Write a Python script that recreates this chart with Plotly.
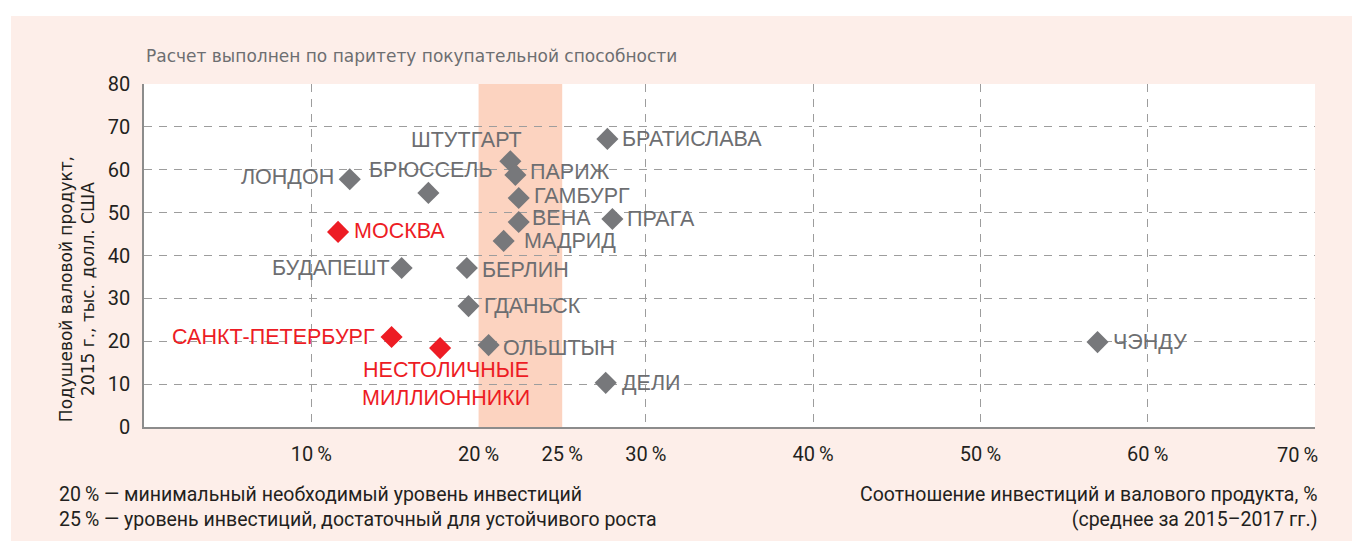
import plotly.graph_objects as go

# data
cities = ["ЛОНДОН", "БРЮССЕЛЬ", "БУДАПЕШТ", "ШТУТГАРТ", "ПАРИЖ", "ГАМБУРГ", "ВЕНА",
          "МАДРИД", "БЕРЛИН", "ГДАНЬСК", "ОЛЬШТЫН", "БРАТИСЛАВА", "ПРАГА", "ДЕЛИ", "ЧЭНДУ"]
invest = [12.3, 17.0, 15.4, 21.9, 22.2, 22.4, 22.4, 21.5, 19.3, 19.4, 20.6, 27.7, 28.0, 27.6, 57.0]
gdp = [57.8, 54.6, 37.1, 62.0, 58.8, 53.4, 47.8, 43.4, 37.1, 28.2, 19.1, 67.2, 48.5, 10.3, 19.8]

ru_cities = ["МОСКВА", "САНКТ-ПЕТЕРБУРГ", "НЕСТОЛИЧНЫЕ<br>МИЛЛИОННИКИ"]
ru_invest = [11.6, 14.8, 17.7]
ru_gdp = [45.5, 21.0, 18.4]

x_tickvals = [10, 20, 25, 30, 40, 50, 60]
x_ticktext = ["10\u2009%", "20\u2009%", "25\u2009%", "30\u2009%", "40\u2009%", "50\u2009%", "60\u2009%"]
x_last_tick = 70  # drawn separately, right-aligned to the plot edge like the original
y_tickvals = [0, 10, 20, 30, 40, 50, 60, 70, 80]

GREY = "#77787b"
LABEL_GREY = "#6d6e71"
RED = "#ed1c24"
DARK = "#231f20"
PINK = "#fdeee9"
BAND = "#fcd3c0"
LABEL_FONT = "Liberation Sans, Arial, sans-serif"
TEXT_FONT = "DejaVu Sans, sans-serif"
TICK_FONT = "Roboto, sans-serif"

# label placement: (anchor, xshift, yshift)
place = {
    "ЛОНДОН": ("right", -14, 2), "БРЮССЕЛЬ": ("center", 3, 23), "БУДАПЕШТ": ("right", -10, 0),
    "ШТУТГАРТ": ("center", -44, 21), "ПАРИЖ": ("left", 13, 3), "ГАМБУРГ": ("left", 13, 2),
    "ВЕНА": ("left", 11, 4), "МАДРИД": ("left", 18, 0), "БЕРЛИН": ("left", 13, -2),
    "ГДАНЬСК": ("left", 13, 0), "ОЛЬШТЫН": ("left", 12, -3), "БРАТИСЛАВА": ("left", 13, 0),
    "ПРАГА": ("left", 13, 0), "ДЕЛИ": ("left", 14, 0), "ЧЭНДУ": ("left", 13, 0),
    "МОСКВА": ("left", 14, 1), "САНКТ-ПЕТЕРБУРГ": ("right", -15, 0),
    "НЕСТОЛИЧНЫЕ<br>МИЛЛИОННИКИ": ("center", 6, -36),
}

fig = go.Figure()
fig.add_trace(go.Scatter(x=invest, y=gdp, mode="markers", hoverinfo="skip",
                         marker=dict(symbol="diamond", size=17, color=GREY)))
fig.add_trace(go.Scatter(x=ru_invest, y=ru_gdp, mode="markers", hoverinfo="skip",
                         marker=dict(symbol="diamond", size=17, color=RED)))

for names, xs, ys, col in [(cities, invest, gdp, LABEL_GREY), (ru_cities, ru_invest, ru_gdp, RED)]:
    for n, xv, yv in zip(names, xs, ys):
        anc, dx, dy = place[n]
        fig.add_annotation(x=xv, y=yv, text=n, showarrow=False, xanchor=anc, yanchor="middle",
                           xshift=dx, yshift=dy, font=dict(family=LABEL_FONT, size=21.5, color=col))

# investment band 20-25 %
fig.add_shape(type="rect", xref="x", yref="y", x0=20, x1=25, y0=0, y1=80,
              fillcolor=BAND, line_width=0, layer="below")

# white strips around the pink page (page body already adds 8px)
fig.add_shape(type="rect", xref="paper", yref="paper", x0=-0.2, x1=-0.1136, y0=-0.5, y1=1.3,
              fillcolor="white", line_width=0, layer="below")
fig.add_shape(type="rect", xref="paper", yref="paper", x0=-0.2, x1=1.1, y0=1.198, y1=1.3,
              fillcolor="white", line_width=0, layer="below")

fig.add_annotation(xref="x", yref="paper", x=x_last_tick, y=-0.082, text=f"{x_last_tick}\u2009%",
                   showarrow=False, xanchor="right", yanchor="middle", xshift=5,
                   font=dict(family=TICK_FONT, size=20, color=DARK))
fig.add_annotation(xref="paper", yref="paper", x=0, y=1.0816,
                   text="Расчет выполнен по паритету покупательной способности",
                   showarrow=False, xanchor="left", yanchor="middle",
                   font=dict(family=TEXT_FONT, size=17, color=LABEL_GREY))
fig.add_annotation(xref="paper", yref="paper", x=-0.0572, y=0.402,
                   text="Подушевой валовой продукт,<br>2015 г., тыс. долл. США", textangle=-90,
                   showarrow=False, xanchor="center", yanchor="middle",
                   font=dict(family=TEXT_FONT, size=17, color=DARK))
fig.add_annotation(xref="paper", yref="paper", x=-0.0743, y=-0.2318,
                   text="20\u2009% — минимальный необходимый уровень инвестиций<br>25\u2009% — уровень инвестиций, достаточный для устойчивого роста",
                   showarrow=False, xanchor="left", yanchor="middle", align="left",
                   font=dict(family=TICK_FONT, size=19.5, color=DARK))
fig.add_annotation(xref="paper", yref="paper", x=1.0034, y=-0.2318,
                   text="Соотношение инвестиций и валового продукта, %<br>(среднее за 2015–2017 гг.)",
                   showarrow=False, xanchor="right", yanchor="middle", align="right",
                   font=dict(family=TICK_FONT, size=19.5, color=DARK))

fig.update_layout(
    width=1352, height=533,
    margin=dict(l=136, r=45, t=76, b=114),
    paper_bgcolor=PINK, plot_bgcolor="white",
    showlegend=False,
    xaxis=dict(range=[0, 70], tickmode="array", tickvals=x_tickvals, ticktext=x_ticktext,
               showgrid=False, zeroline=False, showline=True, linecolor="#8c8c8c", linewidth=1.5,
               ticks="", ticklabelstandoff=8,
               tickfont=dict(family=TICK_FONT, size=20, color=DARK),
               minor=dict(tickmode="array", tickvals=[10, 30, 40, 50, 60, 70], showgrid=True,
                          gridcolor="#9d9d9d", griddash="8px,7px", gridwidth=1.2)),
    yaxis=dict(range=[0, 80], tickmode="array", tickvals=y_tickvals,
               showgrid=True, gridcolor="#9d9d9d", griddash="8px,7px", gridwidth=1.2,
               zeroline=False, showline=True, linecolor="#8c8c8c", linewidth=1.5,
               ticks="", ticklabelstandoff=8,
               tickfont=dict(family=TICK_FONT, size=20, color=DARK)),
)

fig.write_html("out.html")
